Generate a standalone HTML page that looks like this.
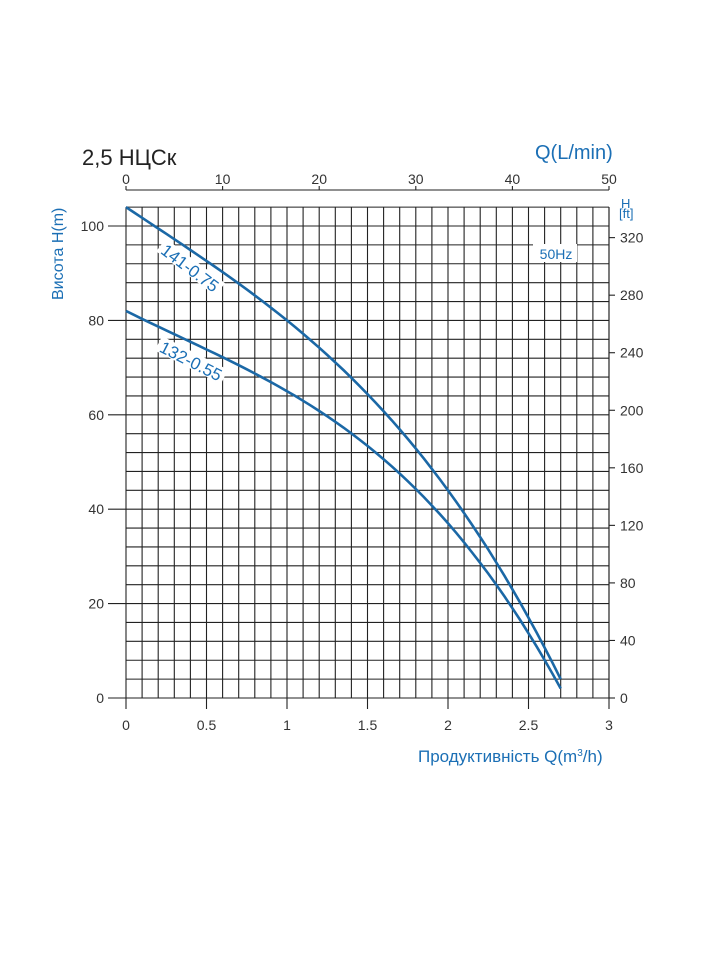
<!DOCTYPE html>
<html><head><meta charset="utf-8"><style>
html,body{margin:0;padding:0;background:#fff;}
svg{display:block;font-family:"Liberation Sans",sans-serif;}
</style></head><body>
<svg id="s" width="720" height="960" xmlns="http://www.w3.org/2000/svg">
<g id="grid" stroke="#222" stroke-width="1.1" fill="none"></g>
<g id="lbl"></g>
<g id="curves" fill="none" stroke="#1b68a6" stroke-width="2.6"></g>
<g font-size="15" fill="#333">
<text x="82" y="165" font-size="22" fill="#222">2,5 НЦСк</text>
<text x="535" y="159" font-size="20" fill="#1b6fb5">Q(L/min)</text>
<text x="621" y="208" font-size="13" fill="#1b6fb5">H</text>
<text x="619" y="218" font-size="13" fill="#1b6fb5">[ft]</text>
<text x="418" y="762" font-size="17" fill="#1b6fb5">Продуктивність Q(m<tspan dy="-6" font-size="10">3</tspan><tspan dy="6">/h)</tspan></text>
<text transform="translate(63,300) rotate(-90)" font-size="16" fill="#1b6fb5">Висота H(m)</text>
</g>
</svg>
<script>
(function(){
const ns="http://www.w3.org/2000/svg";
const g=document.getElementById('grid');
function el(p,t,a,txt){const e=document.createElementNS(ns,t);for(const k in a)e.setAttribute(k,a[k]);if(txt!==undefined)e.textContent=txt;p.appendChild(e);return e;}
const X=q=>126+q*161, Y=h=>698-h*4.72;
const yTop=Y(104);
for(let i=0;i<=30;i++){const x=X(i/10);el(g,'line',{x1:x,y1:yTop,x2:x,y2:698});}
for(let h=0;h<=104;h+=4){el(g,'line',{x1:126,y1:Y(h),x2:609,y2:Y(h)});}
el(g,'line',{x1:126,y1:190,x2:609,y2:190});
const lab=document.getElementById('lbl');
for(let i=0;i<=5;i++){const x=X(i*0.6);el(g,'line',{x1:x,y1:186,x2:x,y2:190});el(lab,'text',{x:x,y:184,'text-anchor':'middle','font-size':14,fill:'#333'},String(i*10));}
el(g,'line',{x1:126,y1:698,x2:609,y2:698});
const bl=['0','0.5','1','1.5','2','2.5','3'];
for(let i=0;i<=6;i++){const x=X(i*0.5);el(g,'line',{x1:x,y1:698,x2:x,y2:709});el(lab,'text',{x:x,y:730,'text-anchor':'middle','font-size':14,fill:'#333'},bl[i]);}
for(let h=0;h<=100;h+=20){el(g,'line',{x1:108,y1:Y(h),x2:126,y2:Y(h)});el(lab,'text',{x:104,y:Y(h)+5,'text-anchor':'end','font-size':14,fill:'#333'},String(h));}
for(let f=0;f<=320;f+=40){const y=698-f*0.3048*4.72;el(g,'line',{x1:609,y1:y,x2:615,y2:y});el(lab,'text',{x:620,y:y+5,'font-size':14,fill:'#333'},String(f));}
el(g,'line',{x1:609,y1:yTop,x2:609,y2:698});
function curve(a,b,c,d){let s='';for(let i=0;i<=54;i++){const q=i*0.05;const h=a-b*q-c*q*q-d*q*q*q;s+=(i?' L':'M')+X(q).toFixed(1)+','+Y(h).toFixed(1);}return s;}
const cg=document.getElementById('curves');
el(cg,'path',{d:curve(104,22.77,-1.15,2.384)});
el(cg,'path',{d:curve(82,17.01,-2.768,2.756)});
function rl(x,y,a,t){const gg=el(lab,'g',{transform:'translate('+x+','+y+') rotate('+a+')'});el(gg,'rect',{x:-37,y:-9,width:74,height:16,fill:'#fff'});el(gg,'text',{x:0,y:6,'text-anchor':'middle','font-size':17,fill:'#1b6fb5'},t);}
rl(190,268,37,'141-0.75');rl(191,361,27,'132-0.55');
const gz=el(lab,'g',{});el(gz,'rect',{x:533,y:244,width:44,height:18,fill:'#fff'});el(gz,'text',{x:556,y:259,'text-anchor':'middle','font-size':14,fill:'#1b6fb5'},'50Hz');
})();
</script>
</body></html>
